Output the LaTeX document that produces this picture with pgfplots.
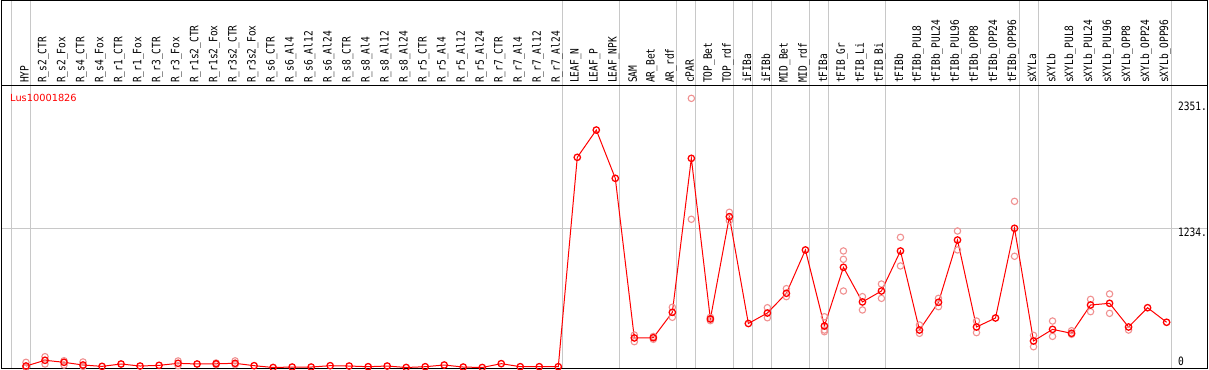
\documentclass[border=0pt]{standalone}
\usepackage{fontspec}
\usepackage{graphicx}
\usepackage{pgfplots}
\pgfplotsset{compat=1.18}
\setmainfont{DejaVu Sans}
\newfontfamily\monof{DejaVu Sans Mono}
\definecolor{rep}{RGB}{240,145,145}
\definecolor{sep}{RGB}{200,200,200}
\tikzset{
  lbl/.style={rotate=90, anchor=west, inner sep=0pt, font=\monof\fontsize{11.5bp}{12bp}\selectfont},
  rlab/.style={anchor=west, inner sep=0pt, font=\monof\fontsize{11.5bp}{12bp}\selectfont},
}

\begin{document}
\begin{tikzpicture}
\begin{axis}[
  at={(0,0)}, anchor=south west,
  scale only axis, width=1206.5bp, height=368bp,
  xmin=-1.315, xmax=62.15, ymin=-8.9, ymax=3253.4,
  axis line style={black, line width=1bp},
  xtick={-0.763,0.237,28.237,31.237,34.237,35.237,37.237,38.237,39.237,41.237,42.237,45.237,52.237,53.237,60.237},
  ytick={1234},
  xticklabels={}, yticklabels={},
  major tick length=0pt,
  xmajorgrids, ymajorgrids,
  grid style={sep, line width=1bp},
]
% black separator under the labels
\draw[black, line width=1bp] (axis cs:-1.315,2504) -- (axis cs:62.15,2504);

% replicates
\addplot[only marks, mark=o, mark size=3.2bp, mark options={draw=rep, line width=1.1bp}] coordinates {
(0,46)(0,0)(1,96)(1,31)(2,60)(2,22)(3,49)(3,10)(8,58)(8,16)(10,40)(10,25)(11,59)(11,25)
(32,288)(32,229)(33,250)(33,275)(34,534)(34,445)(35,2386)(35,1314)(36,445)(36,415)
(37,1376)(37,1302)(39,530)(39,441)(40,699)(40,628)(42,450)(42,317)(42,332)
(43,1033)(43,959)(43,678)(44,628)(44,510)(45,740)(45,613)(46,1154)(46,900)
(47,377)(47,303)(48,613)(48,539)(49,1210)(49,1042)(50,412)(50,309)(52,1473)(52,986)
(53,285)(53,184)(54,412)(54,276)(55,326)(55,294)(56,604)(56,495)(57,652)(57,480)(58,332)
};

% means
\addplot[red, line width=1bp, mark=o, mark size=3.2bp, mark options={line width=1.3bp}] coordinates {
(0,13)(1,64)(2,46)(3,22)(4,10)(5,31)(6,13)(7,19)(8,37)(9,31)(10,33)(11,37)(12,16)
(13,0)(14,4)(15,4)(16,16)(17,13)(18,7)(19,13)(20,0)(21,7)(22,22)(23,4)(24,0)(25,34)
(26,7)(27,7)(28,7)(29,1863)(30,2105)(31,1677)(32,262)(33,264)(34,489)(35,1854)
(36,430)(37,1337)(38,390)(39,483)(40,658)(41,1042)(42,368)(43,888)(44,581)(45,678)
(46,1033)(47,332)(48,578)(49,1130)(50,359)(51,439)(52,1234)(53,235)(54,338)(55,303)
(56,554)(57,569)(58,359)(59,530)(60,401)
};

% category labels
\foreach \lab [count=\i from 0] in {HYP,R\_s2\_CTR,R\_s2\_Fox,R\_s4\_CTR,R\_s4\_Fox,R\_r1\_CTR,R\_r1\_Fox,R\_r3\_CTR,R\_r3\_Fox,R\_r1s2\_CTR,R\_r1s2\_Fox,R\_r3s2\_CTR,R\_r3s2\_Fox,R\_s6\_CTR,R\_s6\_Al4,R\_s6\_Al12,R\_s6\_Al24,R\_s8\_CTR,R\_s8\_Al4,R\_s8\_Al12,R\_s8\_Al24,R\_r5\_CTR,R\_r5\_Al4,R\_r5\_Al12,R\_r5\_Al24,R\_r7\_CTR,R\_r7\_Al4,R\_r7\_Al12,R\_r7\_Al24,LEAF\_N,LEAF\_P,LEAF\_NPK,SAM,AR\_Bet,AR\_rdf,cPAR,TOP\_Bet,TOP\_rdf,iFIBa,iFIBb,MID\_Bet,MID\_rdf,tFIBa,tFIB\_Gr,tFIB\_Li,tFIB\_Bi,tFIBb,tFIBb\_PUL8,tFIBb\_PUL24,tFIBb\_PUL96,tFIBb\_OPP8,tFIBb\_OPP24,tFIBb\_OPP96,sXYLa,sXYLb,sXYLb\_PUL8,sXYLb\_PUL24,sXYLb\_PUL96,sXYLb\_OPP8,sXYLb\_OPP24,sXYLb\_OPP96} {
  \edef\tmp{\noexpand\node[lbl] at (axis cs:\i-0.08,2522) {\noexpand\scalebox{0.83}[1]{\unexpanded\expandafter{\lab}}};}
  \tmp
}

% title
\node[anchor=west, inner sep=0pt, text=red, font=\fontsize{9.8bp}{11bp}\selectfont] at (axis cs:-0.84,2394) {Lus10001826};

% right value labels
\node[rlab] at (axis cs:60.6,2312) {\scalebox{0.83}[1]{2351.}};
\node[rlab] at (axis cs:60.6,1195) {\scalebox{0.83}[1]{1234.}};
\node[rlab] at (axis cs:60.6,51) {\scalebox{0.83}[1]{0}};
\end{axis}
\pgfresetboundingbox
\path (-1bp,-1.5bp) rectangle (1208bp,368.5bp);
\end{tikzpicture}
\end{document}
